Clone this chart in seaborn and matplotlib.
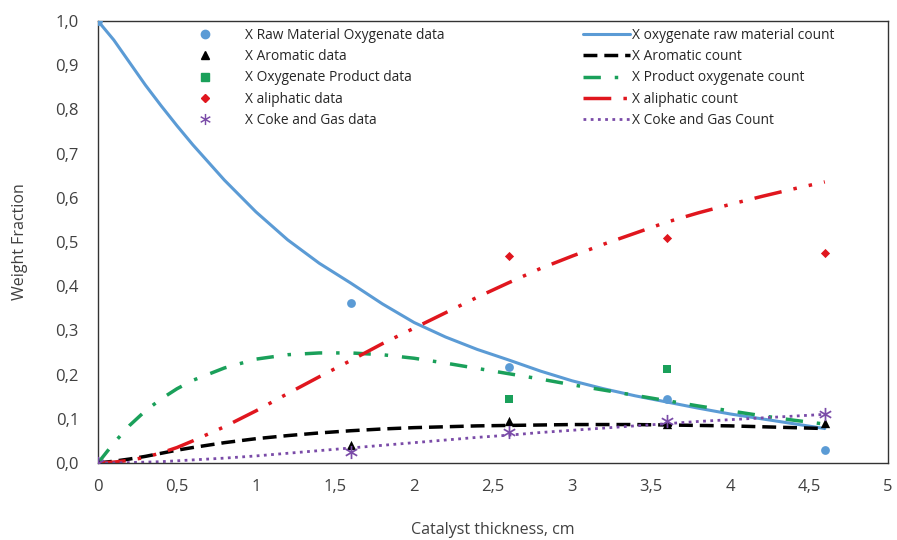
import matplotlib
matplotlib.use("Agg")
import matplotlib.pyplot as plt
import seaborn as sns
import numpy as np
import pandas as pd
from matplotlib.lines import Line2D

# ---- data points ----
x_raw = [0, 1.6, 2.6, 3.6, 4.6]
y_raw = [1.0, 0.362, 0.218, 0.145, 0.03]
x_aro = [0, 1.6, 2.6, 3.6, 4.6]
y_aro = [0.0, 0.04, 0.095, 0.088, 0.09]
x_oxp = [2.6, 3.6]
y_oxp = [0.145, 0.212]
x_ali = [2.6, 3.6, 4.6]
y_ali = [0.468, 0.51, 0.474]
x_cok = [0, 1.6, 2.6, 3.6, 4.6]
y_cok = [0.0, 0.025, 0.07, 0.095, 0.11]

# ---- model curves ----
x_curve = [0, 0.1, 0.2, 0.3, 0.4, 0.5, 0.6, 0.8, 1.0, 1.2, 1.4, 1.6, 1.8, 2.0,
           2.2, 2.4, 2.6, 2.8, 3.0, 3.2, 3.4, 3.6, 3.8, 4.0, 4.2, 4.4, 4.6]
c_raw = [1.0, 0.957, 0.906, 0.855, 0.808, 0.763, 0.72, 0.64, 0.568, 0.505, 0.452, 0.407, 0.36, 0.318,
         0.285, 0.257, 0.233, 0.208, 0.186, 0.168, 0.152, 0.138, 0.124, 0.111, 0.1, 0.089, 0.078]
c_aro = [0.0, 0.004, 0.009, 0.015, 0.022, 0.029, 0.035, 0.046, 0.055, 0.062, 0.068, 0.073, 0.077, 0.08,
         0.082, 0.084, 0.085, 0.086, 0.087, 0.087, 0.087, 0.086, 0.085, 0.084, 0.082, 0.08, 0.078]
c_oxp = [0.0, 0.045, 0.085, 0.118, 0.145, 0.168, 0.187, 0.215, 0.235, 0.245, 0.249, 0.249, 0.245, 0.237,
         0.226, 0.214, 0.202, 0.19, 0.177, 0.165, 0.153, 0.141, 0.129, 0.118, 0.107, 0.097, 0.088]
c_ali = [0.0, 0.002, 0.006, 0.013, 0.023, 0.035, 0.05, 0.082, 0.118, 0.157, 0.195, 0.232, 0.27, 0.305,
         0.34, 0.375, 0.408, 0.44, 0.468, 0.495, 0.52, 0.545, 0.566, 0.585, 0.603, 0.62, 0.636]
c_cok = [0.0, 0.0, 0.001, 0.002, 0.003, 0.005, 0.007, 0.011, 0.016, 0.022, 0.028, 0.034, 0.04, 0.046,
         0.052, 0.058, 0.063, 0.069, 0.074, 0.079, 0.084, 0.089, 0.094, 0.098, 0.102, 0.106, 0.11]

x_ticks = [0, 0.5, 1, 1.5, 2, 2.5, 3, 3.5, 4, 4.5, 5]
x_tick_labels = ["0", "0,5", "1", "1,5", "2", "2,5", "3", "3,5", "4", "4,5", "5"]
y_ticks = [0, 0.1, 0.2, 0.3, 0.4, 0.5, 0.6, 0.7, 0.8, 0.9, 1.0]
y_tick_labels = ["0,0", "0,1", "0,2", "0,3", "0,4", "0,5", "0,6", "0,7", "0,8", "0,9", "1,0"]

point_labels = ["X Raw Material Oxygenate data", "X Aromatic data", "X Oxygenate Product data",
                "X aliphatic data", "X Coke and Gas data"]
curve_labels = ["X oxygenate raw material count", "X Aromatic count", "X Product oxygenate count",
                "X aliphatic count", "X Coke and Gas Count"]

sns.set_theme(style="white")
plt.rcParams['font.family'] = ['Open Sans', 'DejaVu Sans']

BLUE = "#5B9BD5"
BLACK = "#000000"
GREEN = "#1AA05A"
RED = "#E0161E"
PURPLE = "#7A4BA8"

fig = plt.figure(figsize=(8.97, 5.4), dpi=100)
ax = fig.add_axes([98/897, 1-463/540, 790/897, 442/540])

curves = [
    (c_raw, BLUE, "-", 2.2),
    (c_aro, BLACK, (0, (4, 2)), 2.5),
    (c_oxp, GREEN, (0, (5, 4, 1, 4)), 2.5),
    (c_ali, RED, (0, (8, 3.5, 1, 3.5, 1, 3.5)), 2.5),
    (c_cok, PURPLE, (0, (1, 1.6)), 2.0),
]
for ys, col, ls, lw in curves:
    sns.lineplot(x=x_curve, y=ys, ax=ax, color=col, linestyle=ls, linewidth=lw, zorder=2)

points = [
    (x_raw, y_raw, BLUE, "o", 40),
    (x_aro, y_aro, BLACK, "^", 45),
    (x_oxp, y_oxp, GREEN, "s", 40),
    (x_ali, y_ali, RED, "D", 22),
    (x_cok, y_cok, PURPLE, "$\u2217$", 90),
]
for xs, ys, col, mk, s in points:
    sns.scatterplot(x=xs, y=ys, ax=ax, color=col, marker=mk, s=s, edgecolor=col, linewidth=0, zorder=3)

ax.set_xlim(0, 5)
ax.set_ylim(0, 1.0)
ax.set_xticks(x_ticks)
ax.set_xticklabels(x_tick_labels)
ax.set_yticks(y_ticks)
ax.set_yticklabels(y_tick_labels)
ax.tick_params(axis='both', direction='inout', length=9.5, width=1.0, color="#333333",
               labelsize=12, labelcolor="#404040")
ax.tick_params(axis='x', pad=7)
ax.tick_params(axis='y', pad=9)
for sp in ax.spines.values():
    sp.set_color("#333333")
    sp.set_linewidth(1.0)
ax.set_xlabel("Catalyst thickness, cm", fontsize=11.5, color="#404040", labelpad=19)
ax.set_ylabel("Weight Fraction", fontsize=11.5, color="#404040", labelpad=20)
ax.grid(False)

# legends
mk_handles = [
    Line2D([], [], linestyle="none", marker="o", color=BLUE, markersize=6),
    Line2D([], [], linestyle="none", marker="^", color=BLACK, markersize=6),
    Line2D([], [], linestyle="none", marker="s", color=GREEN, markersize=6),
    Line2D([], [], linestyle="none", marker="D", color=RED, markersize=4.5),
    Line2D([], [], linestyle="none", marker="$\u2217$", color=PURPLE, markersize=8, markeredgewidth=0),
]
ln_handles = [
    Line2D([], [], color=c[1], linestyle=c[2], linewidth=c[3]) for c in curves
]
fs = 9.9
leg1 = fig.legend(mk_handles, point_labels, loc="upper left", bbox_to_anchor=(190.5/897, 1-28/540),
                  frameon=False, fontsize=fs, labelspacing=0.45, handlelength=2.1, handletextpad=1.85,
                  borderaxespad=0, borderpad=0)
leg2 = fig.legend(ln_handles, curve_labels, loc="upper left", bbox_to_anchor=(583/897, 1-28/540),
                  frameon=False, fontsize=fs, labelspacing=0.45, handlelength=3.4, handletextpad=0.15,
                  borderaxespad=0, borderpad=0)
for lg in (leg1, leg2):
    for t in lg.get_texts():
        t.set_color("#262626")

fig.savefig("out.png", dpi=100)
